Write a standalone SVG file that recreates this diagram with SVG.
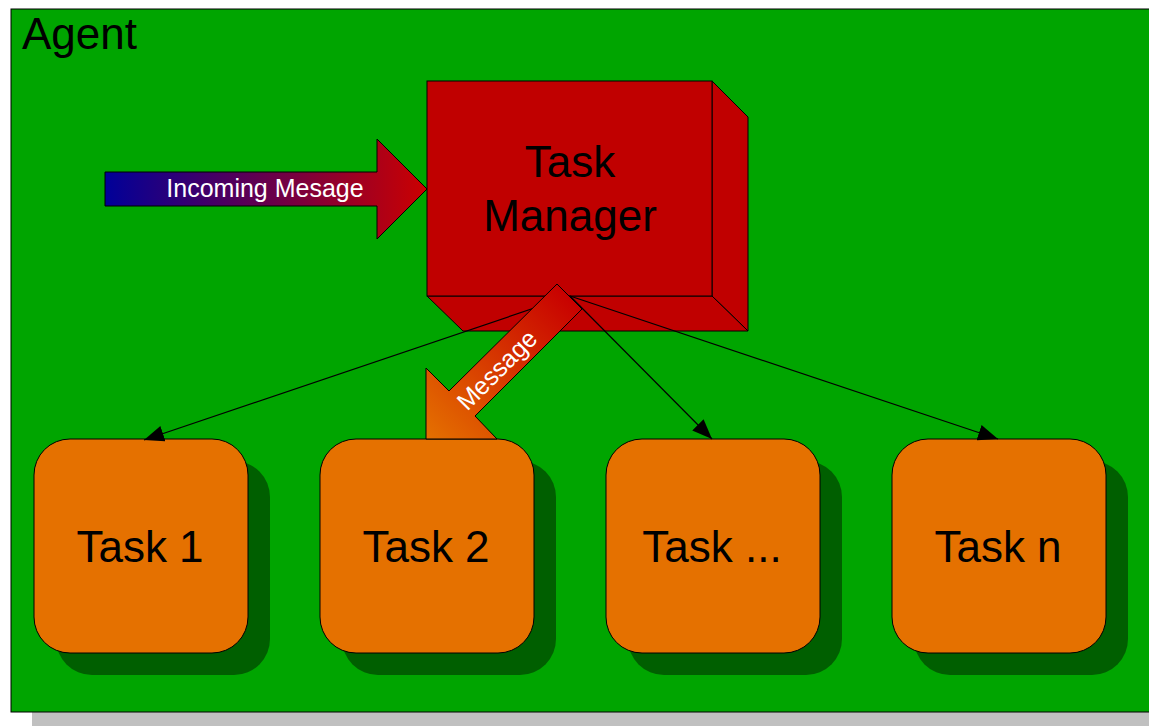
<svg xmlns="http://www.w3.org/2000/svg" width="1149" height="726" viewBox="0 0 1149 726">
<style>
text{font-family:"Liberation Sans",Arial,sans-serif}
.task{fill:#e57100;stroke:#000;stroke-width:1}
.tshadow{fill:#005f00}
.tlabel{font-size:44px;fill:#000;text-anchor:middle}
.tm{fill:#c00000;stroke:#000;stroke-width:1;stroke-linejoin:miter}
.conn{stroke:#000;stroke-width:1.2;fill:none;marker-end:url(#ah)}
</style>
<defs>
<marker id="ah" viewBox="0 0 20 16" refX="20" refY="8" markerWidth="20" markerHeight="16" markerUnits="userSpaceOnUse" orient="auto">
<path d="M0,0 L20,8 L0,16 z" fill="#000"/>
</marker>
<linearGradient id="gIn" x1="105" y1="0" x2="427" y2="0" gradientUnits="userSpaceOnUse">
<stop offset="0" stop-color="#000099"/>
<stop offset="1" stop-color="#cc0000"/>
</linearGradient>
<linearGradient id="gMsg" x1="570" y1="296" x2="426" y2="439" gradientUnits="userSpaceOnUse">
<stop offset="0" stop-color="#c80000"/>
<stop offset="1" stop-color="#e57100"/>
</linearGradient>
</defs>

<g id="agent">
<rect x="32" y="30" width="1140" height="710" fill="#c0c0c0"/>
<rect x="11" y="9" width="1160" height="703" fill="#00a500" stroke="#000" stroke-width="1"/>
<text x="22" y="49" font-size="44" fill="#000">Agent</text>
</g>

<g id="task-manager">
<polygon class="tm" points="712,81 748,117 748,331 712,296"/>
<polygon class="tm" points="427,296 712,296 748,331 463,331"/>
<rect class="tm" x="427" y="81" width="285" height="215"/>
<text x="570" y="177" font-size="44" text-anchor="middle">Task</text>
<text x="570" y="231" font-size="44" text-anchor="middle">Manager</text>
</g>

<g id="incoming-message">
<polygon points="105,172 377,172 377,139 427,189 377,239 377,206 105,206" fill="url(#gIn)" stroke="#000" stroke-width="1"/>
<text x="265" y="197" font-size="25" fill="#fff" text-anchor="middle">Incoming Mesage</text>
</g>

<g id="task1">
<rect class="tshadow" x="56" y="461" width="214" height="214" rx="36"/>
<rect class="task" x="34" y="439" width="214" height="214" rx="36"/>
<text class="tlabel" x="140" y="562">Task 1</text>
</g>
<g id="task2">
<rect class="tshadow" x="342" y="461" width="214" height="214" rx="36"/>
<rect class="task" x="320" y="439" width="214" height="214" rx="36"/>
<text class="tlabel" x="426" y="562">Task 2</text>
</g>
<g id="task3">
<rect class="tshadow" x="628" y="461" width="214" height="214" rx="36"/>
<rect class="task" x="606" y="439" width="214" height="214" rx="36"/>
<text class="tlabel" x="712" y="562">Task ...</text>
</g>
<g id="taskn">
<rect class="tshadow" x="914" y="461" width="214" height="214" rx="36"/>
<rect class="task" x="892" y="439" width="214" height="214" rx="36"/>
<text class="tlabel" x="998" y="562">Task n</text>
</g>

<g id="connectors">
<line class="conn" x1="570" y1="296" x2="144" y2="440"/>
<line class="conn" x1="570" y1="296" x2="712" y2="439"/>
<line class="conn" x1="570" y1="296" x2="998" y2="439"/>
</g>

<g id="message">
<polygon points="557,284 582,309 475,416 497,439 426,439 426,368 449,391" fill="url(#gMsg)" stroke="#000" stroke-width="1"/>
<text x="0" y="0" font-size="25" fill="#fff" text-anchor="middle" transform="translate(503,376) rotate(-45)">Message</text>
</g>
</svg>
